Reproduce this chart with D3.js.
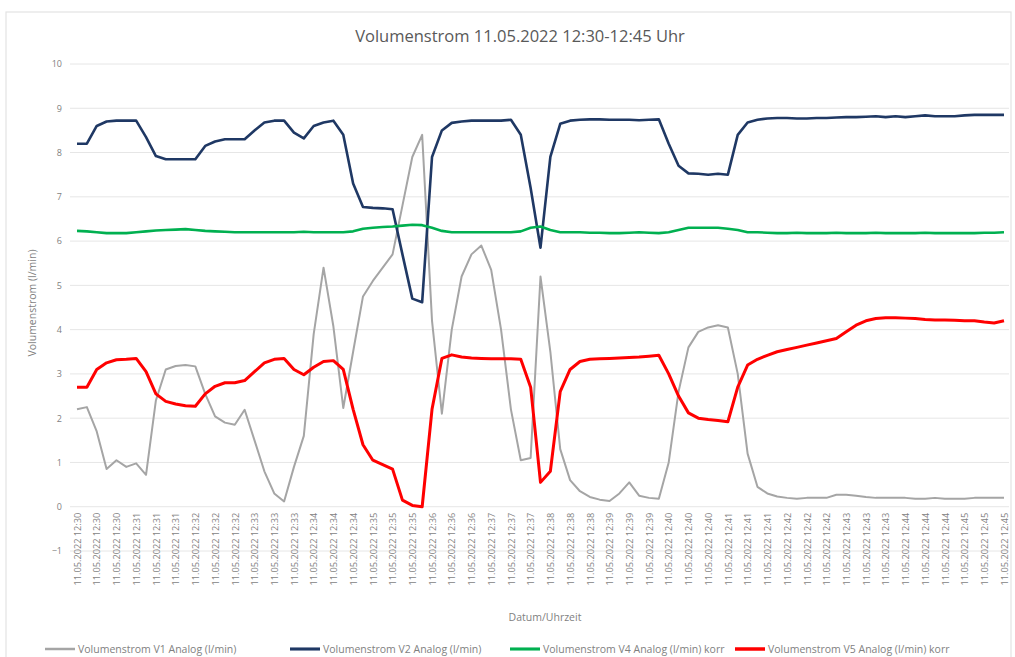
<!DOCTYPE html>
<html><head><meta charset="utf-8">
<script src="https://cdn.jsdelivr.net/npm/d3@7"></script>
<style>body{margin:0;background:#fff;} text{font-family:"Open Sans","Noto Sans",sans-serif;}</style>
</head><body>
<svg id="chart" width="1015" height="657"></svg>
<script>
const title = "Volumenstrom 11.05.2022 12:30-12:45 Uhr";
const yTitle = "Volumenstrom (l/min)";
const xTitle = "Datum/Uhrzeit";
const seriesNames = ["Volumenstrom V1 Analog (l/min)","Volumenstrom V2 Analog (l/min)","Volumenstrom V4 Analog (l/min) korr","Volumenstrom V5 Analog (l/min) korr"];
const seriesColors = ["#a5a5a5","#1f3864","#00b050","#ff0000"];
const yTicks = [-1,0,1,2,3,4,5,6,7,8,9,10];
const tickLabels = [
"11.05.2022 12:30","11.05.2022 12:30","11.05.2022 12:30",
"11.05.2022 12:31","11.05.2022 12:31","11.05.2022 12:31",
"11.05.2022 12:32","11.05.2022 12:32","11.05.2022 12:32",
"11.05.2022 12:33","11.05.2022 12:33","11.05.2022 12:33",
"11.05.2022 12:34","11.05.2022 12:34","11.05.2022 12:34",
"11.05.2022 12:35","11.05.2022 12:35","11.05.2022 12:35",
"11.05.2022 12:36","11.05.2022 12:36","11.05.2022 12:36",
"11.05.2022 12:37","11.05.2022 12:37","11.05.2022 12:37",
"11.05.2022 12:38","11.05.2022 12:38","11.05.2022 12:38",
"11.05.2022 12:39","11.05.2022 12:39","11.05.2022 12:39",
"11.05.2022 12:40","11.05.2022 12:40","11.05.2022 12:40",
"11.05.2022 12:41","11.05.2022 12:41","11.05.2022 12:41",
"11.05.2022 12:42","11.05.2022 12:42","11.05.2022 12:42",
"11.05.2022 12:43","11.05.2022 12:43","11.05.2022 12:43",
"11.05.2022 12:44","11.05.2022 12:44","11.05.2022 12:44",
"11.05.2022 12:45","11.05.2022 12:45","11.05.2022 12:45"];

const v1 = [2.2,2.25,1.7,0.85,1.05,0.9,0.98,0.72,2.4,3.1,
3.18,3.2,3.17,2.55,2.04,1.9,1.85,2.19,1.5,0.8,
0.3,0.12,0.9,1.6,3.9,5.4,4.07,2.23,3.5,4.75,
5.1,5.4,5.7,6.8,7.9,8.4,4.2,2.1,4.0,5.2,
5.7,5.9,5.35,4.0,2.2,1.05,1.1,5.2,3.5,1.3,
0.6,0.35,0.22,0.16,0.13,0.3,0.55,0.25,0.2,0.18,
1.0,2.6,3.6,3.95,4.05,4.1,4.05,3.0,1.2,0.45,
0.3,0.23,0.2,0.18,0.2,0.2,0.2,0.27,0.27,0.25,
0.22,0.2,0.2,0.2,0.2,0.18,0.18,0.2,0.18,0.18,
0.18,0.2,0.2,0.2,0.2];
const v2 = [8.2,8.2,8.6,8.7,8.72,8.72,8.72,8.35,7.92,7.85,
7.85,7.85,7.85,8.15,8.25,8.3,8.3,8.3,8.5,8.68,
8.72,8.72,8.45,8.32,8.6,8.68,8.72,8.4,7.3,6.77,
6.75,6.74,6.72,5.7,4.7,4.62,7.9,8.5,8.67,8.7,
8.72,8.72,8.72,8.72,8.74,8.4,7.2,5.85,7.9,8.65,
8.72,8.74,8.75,8.75,8.74,8.74,8.74,8.73,8.74,8.75,
8.2,7.7,7.53,7.52,7.5,7.52,7.5,8.4,8.68,8.74,
8.77,8.78,8.78,8.77,8.77,8.78,8.78,8.79,8.8,8.8,
8.81,8.82,8.8,8.82,8.8,8.82,8.84,8.82,8.82,8.82,
8.84,8.85,8.85,8.85,8.85];
const v4 = [6.23,6.22,6.2,6.18,6.18,6.18,6.2,6.22,6.24,6.25,
6.26,6.27,6.25,6.23,6.22,6.21,6.2,6.2,6.2,6.2,
6.2,6.2,6.2,6.21,6.2,6.2,6.2,6.2,6.22,6.28,
6.3,6.32,6.33,6.35,6.37,6.36,6.3,6.23,6.2,6.2,
6.2,6.2,6.2,6.2,6.2,6.22,6.3,6.33,6.25,6.2,
6.2,6.2,6.19,6.19,6.18,6.18,6.19,6.2,6.19,6.18,
6.2,6.25,6.3,6.3,6.3,6.3,6.28,6.25,6.2,6.2,
6.19,6.18,6.18,6.19,6.18,6.18,6.18,6.19,6.18,6.18,
6.18,6.19,6.18,6.18,6.18,6.18,6.19,6.18,6.18,6.18,
6.18,6.18,6.19,6.19,6.2];
const v5 = [2.7,2.7,3.1,3.25,3.32,3.33,3.35,3.05,2.55,2.38,
2.32,2.28,2.27,2.55,2.72,2.8,2.8,2.85,3.05,3.25,
3.33,3.35,3.1,2.98,3.15,3.28,3.3,3.1,2.2,1.4,
1.05,0.95,0.85,0.15,0.03,0.0,2.2,3.35,3.43,3.38,
3.36,3.35,3.34,3.34,3.34,3.33,2.7,0.55,0.8,2.6,
3.1,3.28,3.33,3.34,3.35,3.36,3.37,3.38,3.4,3.42,
3.0,2.5,2.12,2.0,1.97,1.95,1.92,2.7,3.2,3.33,
3.42,3.5,3.55,3.6,3.65,3.7,3.75,3.8,3.95,4.1,
4.2,4.25,4.27,4.27,4.26,4.25,4.23,4.22,4.22,4.21,
4.2,4.2,4.17,4.15,4.2];
const seriesValues = [v1,v2,v4,v5];
const seriesWidths = [2,2.6,2.6,3];

const svg = d3.select("#chart");
// light chart frame
svg.append("rect").attr("x",6).attr("y",12).attr("width",1005).attr("height",660)
  .attr("fill","none").attr("stroke","#e3e3e3").attr("stroke-width",1.2);

const idx = d3.range(v1.length);
const x = d3.scalePoint().domain(idx).range([77,1004]);
const y = d3.scaleLinear().domain([-1,10]).range([551,64]);

// gridlines
svg.append("g").selectAll("line").data(yTicks).join("line")
  .attr("x1",70).attr("x2",1009)
  .attr("y1",d=>y(d)).attr("y2",d=>y(d))
  .attr("stroke","#e6e6e6").attr("stroke-width",1);

// y axis labels
const yAxis = d3.axisLeft(y).tickValues(yTicks).tickSize(0).tickPadding(0).tickFormat(d3.format("d"));
svg.append("g").attr("transform","translate(62,0)").call(yAxis)
  .call(g=>g.select(".domain").remove())
  .call(g=>g.selectAll("text").attr("fill","#7f7f7f").style("font-size","9px").style("font-family","'Open Sans',sans-serif"));

// x axis labels
const tickIdx = idx.filter(i=>i%2===0);
const xAxis = d3.axisBottom(x).tickValues(tickIdx).tickSize(0).tickPadding(0)
  .tickFormat(d=>tickLabels[d/2]);
svg.append("g").attr("transform",`translate(0,${y(0)+4})`).call(xAxis)
  .call(g=>g.select(".domain").remove())
  .call(g=>g.selectAll("text")
     .attr("transform","rotate(-90)")
     .attr("text-anchor","end").attr("x",-2).attr("y",0).attr("dy","0.35em")
     .attr("fill","#7f7f7f").style("font-size","9.2px").style("font-family","'Open Sans',sans-serif"));

// lines
const line = d3.line().x((d,i)=>x(i)).y(d=>y(d));
svg.append("g").selectAll("path").data(seriesValues).join("path")
  .attr("d",d=>line(d)).attr("fill","none")
  .attr("stroke",(d,i)=>seriesColors[i]).attr("stroke-width",(d,i)=>seriesWidths[i])
  .attr("stroke-linejoin","round");

// title
svg.append("text").attr("x",520).attr("y",42).attr("text-anchor","middle")
  .attr("fill","#595959").style("font-size","16.5px").text(title);
// y title
svg.append("text").attr("transform","translate(36,303) rotate(-90)").attr("text-anchor","middle")
  .attr("fill","#7f7f7f").style("font-size","10.5px").text(yTitle);
// x title
svg.append("text").attr("x",545).attr("y",621).attr("text-anchor","middle")
  .attr("fill","#7f7f7f").style("font-size","10.5px").text(xTitle);

// legend
const legendX = [45,290,510,735];
const lg = svg.append("g").selectAll("g").data(seriesNames).join("g")
  .attr("transform",(d,i)=>`translate(${legendX[i]},649)`);
lg.append("line").attr("x1",0).attr("x2",30).attr("y1",0).attr("y2",0)
  .attr("stroke",(d,i)=>seriesColors[i]).attr("stroke-width",(d,i)=>seriesWidths[i]+0.5);
lg.append("text").attr("x",33).attr("y",0).attr("dy","0.35em")
  .attr("fill","#7f7f7f").style("font-size","10.5px").text(d=>d);
</script>
</body></html>
